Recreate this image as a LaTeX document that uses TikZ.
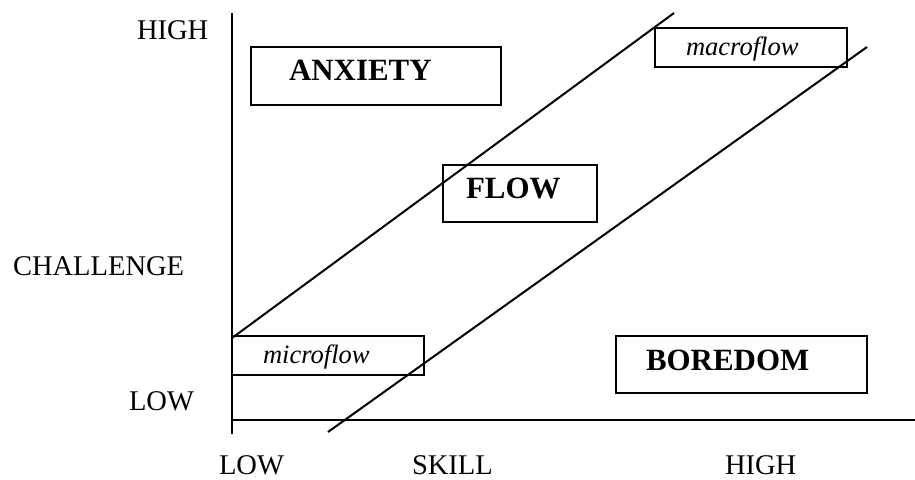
\documentclass[tikz,border=0pt]{standalone}
\usepackage{fontspec}
\setmainfont{Liberation Serif}

\begin{document}
\begin{tikzpicture}[x=0.75pt, y=-0.75pt, line width=1.5pt,
    every text/.style={anchor=base west, inner sep=0pt},
    axis text/.style={every text, font=\fontsize{21.4}{24}\selectfont},
    zone text/.style={every text, font=\fontsize{23.2}{26}\selectfont\bfseries},
    flow text/.style={every text, font=\fontsize{19.9}{22}\selectfont\itshape}]
\useasboundingbox (0,0) rectangle (915,479);

% axes
\coordinate (origin) at (232,420);
\draw (232,13) -- (232,434);
\draw (origin) -- (915,420);

% flow channel
\coordinate (lo1) at (232,338);
\coordinate (hi1) at (674,13);
\coordinate (lo2) at (328,432);
\coordinate (hi2) at (867,47);
\draw (lo1) -- (hi1);
\draw (lo2) -- (hi2);

% zones
\draw (251,47) rectangle (501,105);
\draw (443,165) rectangle (597,222);
\draw (616,336) rectangle (867,393);
\draw (655,28) rectangle (847,67);
\draw (232,336) rectangle (424,375);

\node[zone text] (anxiety) at (288,80) {ANXIETY};
\node[zone text] (flow) at (465,198) {FLOW};
\node[zone text] (boredom) at (645,370) {BOREDOM};
\node[flow text] (macro) at (685,55) {macroflow};
\node[flow text] (micro) at (262,363) {microflow};

% axis labels
\foreach \txt/\x/\y [count=\n] in {HIGH/136/39, CHALLENGE/12/275, LOW/128/410,
    LOW/218/474, SKILL/411/474, HIGH/724/474}
  \node[axis text] (label \n) at (\x,\y) {\txt};
\end{tikzpicture}
\end{document}
